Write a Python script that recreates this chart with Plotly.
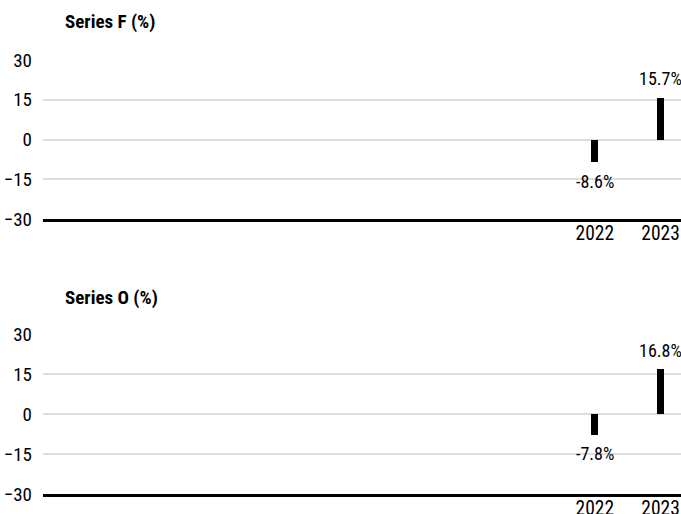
import plotly.graph_objects as go
from plotly.subplots import make_subplots

years = [2022, 2023]
series_f = [-8.6, 15.7]
series_o = [-7.8, 16.8]
titles = ["Series F (%)", "Series O (%)"]
y_ticks = [-30, -15, 0, 15, 30]

FONT = "Roboto Condensed, Liberation Sans Narrow, Arial Narrow, sans-serif"
W, H = 681, 514

fig = make_subplots(rows=2, cols=1)

for i, vals in enumerate([series_f, series_o], start=1):
    fig.add_trace(go.Bar(
        x=years, y=vals, width=0.11,
        marker=dict(color="black", line=dict(width=0)),
        showlegend=False, hoverinfo="skip",
    ), row=i, col=1)

def py(p):
    return 1 - p / H

domains = [(py(219), py(60)), (py(494), py(334))]
for i, dom in enumerate(domains, start=1):
    fig.update_yaxes(
        domain=list(dom), range=[-30, 30], tickvals=y_ticks,
        showgrid=True, gridcolor="#dcdcdc", gridwidth=1.5,
        zeroline=False, showline=False, automargin=False,
        tickfont=dict(family=FONT, size=19, color="black"),
        ticklabelstandoff=10,
        row=i, col=1)
    fig.update_xaxes(
        domain=[0, 1], range=[2013.62, 2023.31],
        tickvals=years, ticktext=[str(y) for y in years],
        showgrid=False, zeroline=False, automargin=False,
        showline=True, linecolor="black", linewidth=3,
        tickfont=dict(family=FONT, size=19.5, color="black"),
        ticks="", ticklabelstandoff=-5,
        row=i, col=1)

annotations = []
for t, ypix in zip(titles, [22, 297]):
    annotations.append(dict(
        text=f"<b>{t}</b>", xref="paper", yref="paper",
        x=(63 - 43) / (W - 43), y=py(ypix), xanchor="left", yanchor="middle",
        showarrow=False, font=dict(family=FONT, size=19, color="black")))

for i, vals in enumerate([series_f, series_o], start=1):
    xr = "x" if i == 1 else f"x{i}"
    yr = "y" if i == 1 else f"y{i}"
    for x, v in zip(years, vals):
        annotations.append(dict(
            text=f"{v:.1f}%", x=x, y=v, xref=xr, yref=yr,
            xanchor="center", yanchor="middle",
            yshift=19 if v >= 0 else -19,
            showarrow=False, font=dict(family=FONT, size=18, color="black")))

fig.update_layout(
    width=W, height=H,
    margin=dict(l=43, r=0, t=0, b=0, autoexpand=False),
    plot_bgcolor="white", paper_bgcolor="white",
    bargap=0, annotations=annotations,
    font=dict(family=FONT, color="black"),
)

fig.write_html(
    "out.html",
    config={"displayModeBar": False},
    post_script="document.body.style.margin='0px';document.body.style.overflow='hidden';",
)
